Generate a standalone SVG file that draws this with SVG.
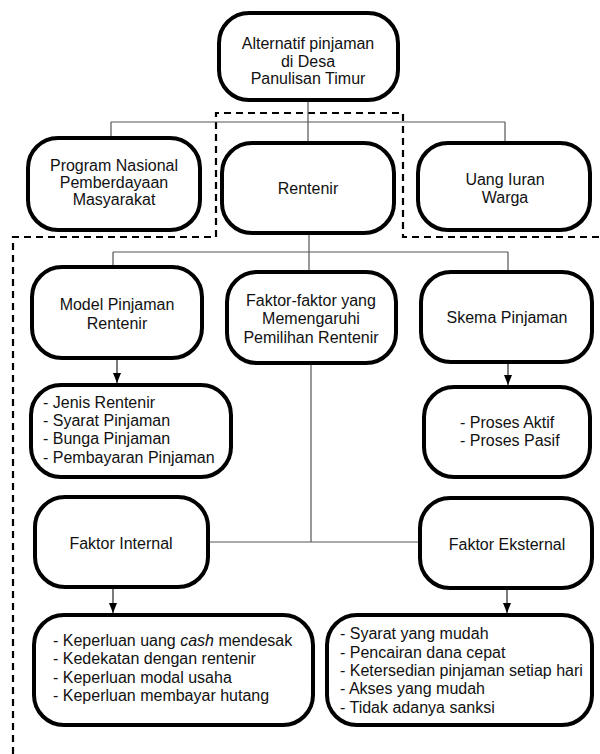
<svg xmlns="http://www.w3.org/2000/svg" width="600" height="754" viewBox="0 0 600 754">
<defs>
<marker id="arr" markerUnits="userSpaceOnUse" markerWidth="10" markerHeight="10" viewBox="0 0 10 10" refX="10" refY="5" orient="auto">
<path d="M0,1 L10,5 L0,9 Z" fill="#000"/>
</marker>
<style>
.box{fill:#fff;stroke:#000;stroke-width:4}
.t{font-family:"Liberation Sans",Arial,sans-serif;font-size:16px;fill:#111}
.c{text-anchor:middle}
.ln{fill:none;stroke:#555;stroke-width:1.2}
.ar{fill:none;stroke:#222;stroke-width:1.2;marker-end:url(#arr)}
.dash{fill:none;stroke:#000;stroke-width:2.2;stroke-dasharray:7 5}
</style>
</defs>
<rect width="600" height="754" fill="#fff"/>

<path class="dash" d="M13,754 L13,237 L216,237 L216,113 L403,113 L403,237 L600,237"/>

<g id="connectors">
<path class="ln" d="M308,101 L308,143 M111,122 L505,122 M111,122 L111,138 M505,122 L505,143"/>
<path class="ln" d="M309,233 L309,272 M113,252 L508,252 M113,252 L113,267 M508,252 L508,272"/>
<path class="ln" d="M311,363 L311,542 M208,542 L420,542"/>
<path class="ar" d="M117,358 L117,383"/>
<path class="ar" d="M508,362 L508,385"/>
<path class="ar" d="M113,587 L113,613"/>
<path class="ar" d="M507,588 L507,613"/>
</g>

<g id="n-top">
<rect class="box" x="219" y="13" width="179" height="87" rx="30"/>
<text class="t c" x="308" y="49">Alternatif pinjaman</text>
<text class="t c" x="308" y="67">di Desa</text>
<text class="t c" x="308" y="84">Panulisan Timur</text>
</g>

<g id="n-pnpm">
<rect class="box" x="28" y="138" width="172" height="92" rx="30"/>
<text class="t c" x="114" y="171">Program Nasional</text>
<text class="t c" x="114" y="188">Pemberdayaan</text>
<text class="t c" x="114" y="205">Masyarakat</text>
</g>

<g id="n-rentenir">
<rect class="box" x="222" y="143" width="172" height="90" rx="30"/>
<text class="t c" x="308" y="194">Rentenir</text>
</g>

<g id="n-iuran">
<rect class="box" x="418" y="143" width="172" height="87" rx="30"/>
<text class="t c" x="505" y="185">Uang Iuran</text>
<text class="t c" x="505" y="203">Warga</text>
</g>

<g id="n-model">
<rect class="box" x="32" y="267" width="170" height="91" rx="30"/>
<text class="t c" x="117" y="310">Model Pinjaman</text>
<text class="t c" x="117" y="329">Rentenir</text>
</g>

<g id="n-faktor">
<rect class="box" x="227" y="272" width="169" height="91" rx="30"/>
<text class="t c" x="311" y="306">Faktor-faktor yang</text>
<text class="t c" x="311" y="324">Memengaruhi</text>
<text class="t c" x="311" y="343">Pemilihan Rentenir</text>
</g>

<g id="n-skema">
<rect class="box" x="421" y="272" width="171" height="90" rx="30"/>
<text class="t c" x="507" y="323">Skema Pinjaman</text>
</g>

<g id="n-jenis">
<rect class="box" x="31" y="385" width="200" height="92" rx="30"/>
<text class="t" x="43" y="408">- Jenis Rentenir</text>
<text class="t" x="43" y="426">- Syarat Pinjaman</text>
<text class="t" x="43" y="444">- Bunga Pinjaman</text>
<text class="t" x="43" y="463">- Pembayaran Pinjaman</text>
</g>

<g id="n-proses">
<rect class="box" x="424" y="387" width="166" height="90" rx="30"/>
<text class="t" x="460" y="428">- Proses Aktif</text>
<text class="t" x="460" y="446">- Proses Pasif</text>
</g>

<g id="n-internal">
<rect class="box" x="35" y="497" width="173" height="90" rx="30"/>
<text class="t c" x="121" y="549">Faktor Internal</text>
</g>

<g id="n-eksternal">
<rect class="box" x="420" y="498" width="172" height="90" rx="30"/>
<text class="t c" x="507" y="550">Faktor Eksternal</text>
</g>

<g id="n-int-list">
<rect class="box" x="34" y="615" width="279" height="110" rx="30"/>
<text class="t" x="53" y="646">- Keperluan uang <tspan font-style="italic">cash</tspan> mendesak</text>
<text class="t" x="53" y="664">- Kedekatan dengan rentenir</text>
<text class="t" x="53" y="683">- Keperluan modal usaha</text>
<text class="t" x="53" y="701">- Keperluan membayar hutang</text>
</g>

<g id="n-eks-list">
<rect class="box" x="327" y="615" width="265" height="110" rx="30"/>
<text class="t" x="340" y="639">- Syarat yang mudah</text>
<text class="t" x="340" y="658">- Pencairan dana cepat</text>
<text class="t" x="340" y="676">- Ketersedian pinjaman setiap hari</text>
<text class="t" x="340" y="694">- Akses yang mudah</text>
<text class="t" x="340" y="713">- Tidak adanya sanksi</text>
</g>
</svg>
